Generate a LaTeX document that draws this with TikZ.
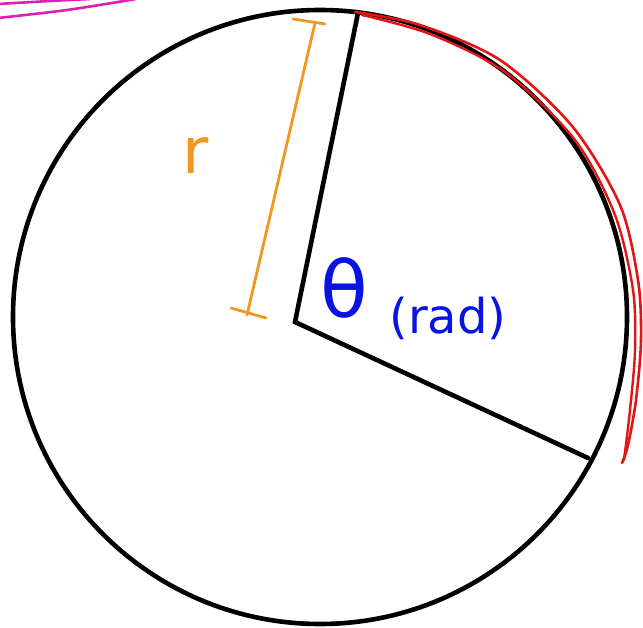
\documentclass[tikz,border=0pt]{standalone}
\usepackage{fontspec}
\newfontfamily\handfont{DejaVu Sans}
\definecolor{penorange}{RGB}{242,150,30}
\definecolor{penblue}{RGB}{10,20,225}
\definecolor{penred}{RGB}{228,20,20}
\definecolor{penpink}{RGB}{222,30,180}
\begin{document}
\begin{tikzpicture}[x=1pt, y=-1pt, line cap=round, line join=round]
    \useasboundingbox (0,0) rectangle (643,628);

    % Nét hồng ở góc trên
    \draw[penpink, line width=2.6pt] plot[smooth] coordinates {(-2,18) (67,10) (136,-1)};
    \draw[penpink, line width=2.6pt] plot[smooth] coordinates {(-2,4) (50,1) (90,-1)};

    % Đường tròn và hình quạt
    \draw[line width=4.6pt] (320,317) circle[radius=307pt];
    \coordinate (O) at (295,322);
    \coordinate (A) at (358,13);
    \coordinate (B) at (588,458);
    \draw[line width=4.6pt, line join=miter] (A) -- (O) -- (B);

    % Cung màu đỏ
    \draw[penred, line width=2.6pt] plot[smooth] coordinates
        {(355,12) (420,25) (500,60) (572,126) (620,205) (638,280) (641,340) (636,400) (628,445) (622,463)};
    \draw[penred, line width=2.4pt] plot[smooth] coordinates
        {(362,15) (430,34) (505,72) (575,140) (615,215) (633,290) (635,350) (630,410) (624,460)};

    % Bán kính r
    \draw[penorange, line width=2.8pt] (315,23) -- (247,315);
    \draw[penorange, line width=2.8pt] (293,19) -- (325,24);
    \draw[penorange, line width=2.8pt] (231,308) -- (266,318);
    \node[text=penorange, font=\handfont\fontsize{64}{64}\selectfont] (r) at (196,156) {r};

    % Góc theta
    \node[text=penblue, font=\handfont\fontsize{78}{78}\selectfont] (theta) at (344,288) {θ};
    \node[text=penblue, font=\handfont\fontsize{48}{48}\selectfont] (rad) at (448,318) {(rad)};
\end{tikzpicture}
\end{document}
